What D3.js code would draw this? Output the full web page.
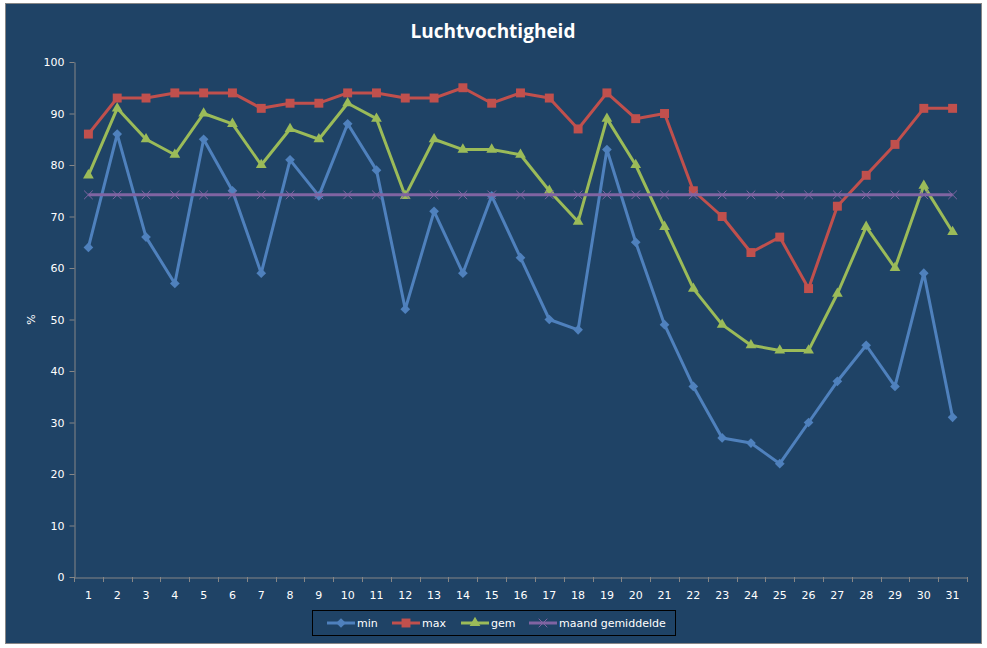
<!DOCTYPE html>
<html>
<head>
<meta charset="utf-8">
<script src="https://cdn.jsdelivr.net/npm/d3@7"></script>
<style>
  body { margin: 0; background: #fff; }
  svg { display: block; }
</style>
</head>
<body>
<svg id="chart"></svg>
<script>
// Daily values (day of month -> humidity %)
const days = d3.range(1, 32).map(String);
const minValues = [64, 86, 66, 57, 85, 75, 59, 81, 74, 88, 79, 52, 71, 59, 74, 62, 50, 48, 83, 65, 49, 37, 27, 26, 22, 30, 38, 45, 37, 59, 31];
const maxValues = [86, 93, 93, 94, 94, 94, 91, 92, 92, 94, 94, 93, 93, 95, 92, 94, 93, 87, 94, 89, 90, 75, 70, 63, 66, 56, 72, 78, 84, 91, 91];
const gemValues = [78, 91, 85, 82, 90, 88, 80, 87, 85, 92, 89, 74, 85, 83, 83, 82, 75, 69, 89, 80, 68, 56, 49, 45, 44, 44, 55, 68, 60, 76, 67];
const maandValues = [74.2, 74.2, 74.2, 74.2, 74.2, 74.2, 74.2, 74.2, 74.2, 74.2, 74.2, 74.2, 74.2, 74.2, 74.2, 74.2, 74.2, 74.2, 74.2, 74.2, 74.2, 74.2, 74.2, 74.2, 74.2, 74.2, 74.2, 74.2, 74.2, 74.2, 74.2];
const seriesNames = ["min", "max", "gem", "maand gemiddelde"];
const yTicks = [0, 10, 20, 30, 40, 50, 60, 70, 80, 90, 100];

const width = 987;
const height = 648;
const marginTop = 62;
const marginRight = 20;
const marginBottom = 71;
const marginLeft = 74;

const bg = "#1f4366";
const axisColor = "#868686";
const textColor = "#ffffff";

const series = [
    {name: seriesNames[0], values: minValues, color: "#4f81bd", symbol: "diamond"},
    {name: seriesNames[1], values: maxValues, color: "#c0504d", symbol: "square"},
    {name: seriesNames[2], values: gemValues, color: "#9bbb59", symbol: "triangle"},
    {name: seriesNames[3], values: maandValues, color: "#8064a2", symbol: "cross"}
];

const x = d3.scaleBand()
    .domain(days)
    .range([marginLeft, width - marginRight]);

const y = d3.scaleLinear()
    .domain([0, 100])
    .range([height - marginBottom, marginTop]);

const svg = d3.select("#chart")
    .attr("width", width)
    .attr("height", height)
    .attr("viewBox", [0, 0, width, height])
    .style("font-family", "Verdana, 'DejaVu Sans', sans-serif");

// Chart frame
svg.append("rect")
    .attr("x", 5.5)
    .attr("y", 3.5)
    .attr("width", 976)
    .attr("height", 640)
    .attr("fill", bg)
    .attr("stroke", axisColor)
    .attr("stroke-width", 1);

svg.append("text")
    .attr("x", 493)
    .attr("y", 38)
    .attr("text-anchor", "middle")
    .attr("fill", textColor)
    .style("font-family", "'Open Sans', 'Noto Sans', sans-serif")
    .style("font-weight", "bold")
    .style("font-size", "19px")
    .text("Luchtvochtigheid");

// y axis
const yAxis = svg.append("g")
    .attr("transform", `translate(${marginLeft + 0.5},0)`)
    .call(d3.axisLeft(y).tickValues(yTicks).tickSize(5).tickSizeOuter(0).tickPadding(5));
yAxis.select(".domain").attr("stroke", axisColor);
yAxis.selectAll(".tick line").attr("stroke", axisColor);
yAxis.selectAll(".tick text")
    .attr("fill", textColor)
    .style("font-size", "11px")
    .style("font-family", "Verdana, 'DejaVu Sans', sans-serif");

svg.append("text")
    .attr("transform", `translate(35,${y(50)}) rotate(-90)`)
    .attr("text-anchor", "middle")
    .attr("fill", textColor)
    .style("font-size", "11px")
    .text("%");

// x axis
const xAxis = svg.append("g")
    .attr("transform", `translate(0,${y(0) + 0.5})`)
    .call(d3.axisBottom(x).tickSize(0).tickPadding(14));
xAxis.select(".domain").attr("stroke", axisColor);
xAxis.selectAll(".tick text")
    .attr("fill", textColor)
    .style("font-size", "11px")
    .style("font-family", "Verdana, 'DejaVu Sans', sans-serif");

// category boundary ticks
svg.append("g")
    .selectAll("line")
    .data(days.concat(["end"]))
    .join("line")
      .attr("x1", (d, i) => Math.round(marginLeft + i * x.step()) + 0.5)
      .attr("x2", (d, i) => Math.round(marginLeft + i * x.step()) + 0.5)
      .attr("y1", y(0))
      .attr("y2", y(0) + 5)
      .attr("stroke", axisColor);

const line = d3.line()
    .x((d, i) => x(days[i]) + x.bandwidth() / 2)
    .y(d => y(d));

const symbolType = {
    diamond: d3.symbolDiamond2,
    square: d3.symbolSquare,
    triangle: d3.symbolTriangle,
    cross: d3.symbolX
};
const symbolSize = {diamond: 60, square: 80, triangle: 50, cross: 50};

function drawMarker(g, s) {
    const sym = d3.symbol().type(symbolType[s.symbol]).size(symbolSize[s.symbol]);
    if (s.symbol === "cross") {
        g.append("path").attr("d", sym).attr("fill", "none").attr("stroke", s.color).attr("stroke-width", 1);
    } else {
        g.append("path").attr("d", sym).attr("fill", s.color);
    }
}

const seriesG = svg.append("g")
  .selectAll("g")
  .data(series)
  .join("g");

seriesG.append("path")
    .attr("fill", "none")
    .attr("stroke", d => d.color)
    .attr("stroke-width", 3)
    .attr("stroke-linejoin", "round")
    .attr("d", d => line(d.values));

seriesG.each(function(s) {
    d3.select(this).selectAll("g.pt")
      .data(s.values)
      .join("g")
        .attr("class", "pt")
        .attr("transform", (d, i) => `translate(${x(days[i]) + x.bandwidth() / 2},${y(d)})`)
        .each(function() { drawMarker(d3.select(this), s); });
});

// Legend
const legend = svg.append("g");
legend.append("rect")
    .attr("x", 312.5)
    .attr("y", 610.5)
    .attr("width", 363)
    .attr("height", 25)
    .attr("fill", "none")
    .attr("stroke", "#000")
    .attr("stroke-width", 1);

const legendX = [327, 392, 461, 529];
const legendItems = legend.selectAll("g")
  .data(series)
  .join("g")
    .attr("transform", (d, i) => `translate(${legendX[i]},623)`);

legendItems.append("line")
    .attr("x1", 0)
    .attr("x2", 28)
    .attr("stroke", d => d.color)
    .attr("stroke-width", 3);

legendItems.append("g")
    .attr("transform", "translate(14,0)")
    .each(function(s) { drawMarker(d3.select(this), s); });

legendItems.append("text")
    .attr("x", 30)
    .attr("y", 4)
    .attr("fill", textColor)
    .style("font-size", "11px")
    .text(d => d.name);
</script>
</body>
</html>
